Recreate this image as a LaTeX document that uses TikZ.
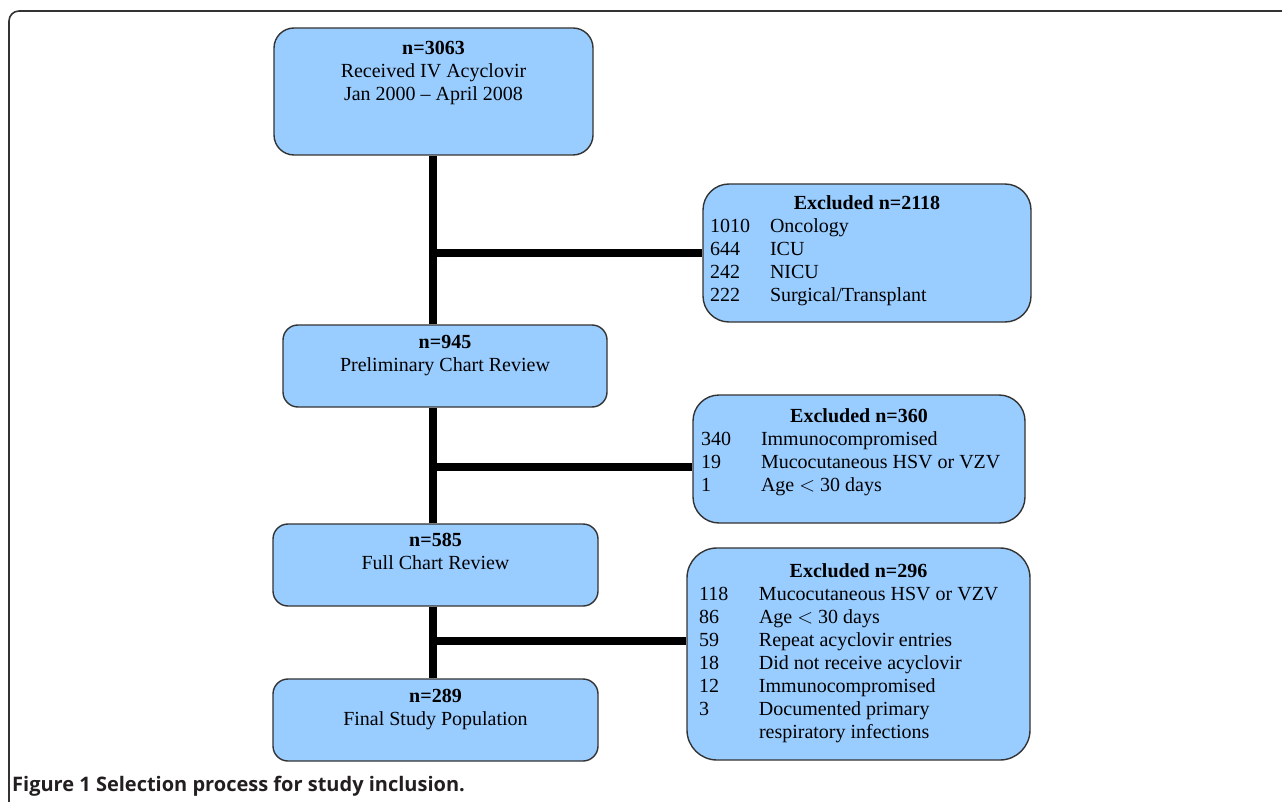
\documentclass[tikz,border=0pt]{standalone}
\usepackage{fontspec}
\setmainfont{Liberation Serif}
\newfontfamily\capfont{Open Sans}
\usetikzlibrary{positioning, backgrounds}
\definecolor{boxblue}{HTML}{99CCFF}
\definecolor{boxline}{HTML}{333333}
\definecolor{captext}{HTML}{231F20}

\begin{document}
\begin{tikzpicture}[x=1pt, y=-1pt, font=\fontsize{20}{23}\selectfont,
  stage/.style={draw=boxline, fill=boxblue, line width=1.4pt, rounded corners=15pt, inner sep=0pt},
  excl/.style={stage, rounded corners=26pt},
  flow/.style={line width=8pt, black}]
  \useasboundingbox (0,0) rectangle (1282,802);

  % Frame
  \draw[boxline, line width=1.6pt, rounded corners=10pt] (9,820) -- (9,11) -- (1300,11);

  % Main stages
  \node[stage, rounded corners=20pt, minimum width=319pt, minimum height=127pt] (recv) at (433.5,91.5)
    {\parbox[c][100pt][t]{300pt}{\centering\textbf{n=3063}\\Received IV Acyclovir\\Jan 2000 -- April 2008}};
  \node[stage, minimum width=324pt, minimum height=82pt] (prelim) at (445,366)
    {\parbox[c][61pt][t]{300pt}{\centering\textbf{n=945}\\Preliminary Chart Review}};
  \node[stage, minimum width=325pt, minimum height=82pt] (full) at (435.5,565)
    {\parbox[c][63pt][t]{300pt}{\centering\textbf{n=585}\\Full Chart Review}};
  \node[stage, minimum width=325pt, minimum height=82pt] (final) at (435.5,720)
    {\parbox[c][61pt][t]{300pt}{\centering\textbf{n=289}\\Final Study Population}};

  % Exclusions
  \node[excl, minimum width=328pt, minimum height=138pt] (exA) at (867,253)
    {\parbox[c][115pt][t]{314pt}{\makebox[\linewidth]{\textbf{Excluded n=2118}}\\
      \makebox[60pt][l]{1010}Oncology\\
      \makebox[60pt][l]{644}ICU\\
      \makebox[60pt][l]{242}NICU\\
      \makebox[60pt][l]{222}Surgical/Transplant}};
  \node[excl, minimum width=332pt, minimum height=128pt] (exB) at (859,459)
    {\parbox[c][101pt][t]{316pt}{\makebox[\linewidth]{\textbf{Excluded n=360}}\\
      \makebox[60pt][l]{340}Immunocompromised\\
      \makebox[60pt][l]{19}Mucocutaneous HSV or VZV\\
      \makebox[60pt][l]{1}Age $<$ 30 days}};
  \node[excl, rounded corners=30pt, minimum width=343pt, minimum height=212pt] (exC) at (858.5,654)
    {\parbox[c][181pt][t]{319pt}{\makebox[\linewidth]{\textbf{Excluded n=296}}\\
      \makebox[60pt][l]{118}Mucocutaneous HSV or VZV\\
      \makebox[60pt][l]{86}Age $<$ 30 days\\
      \makebox[60pt][l]{59}Repeat acyclovir entries\\
      \makebox[60pt][l]{18}Did not receive acyclovir\\
      \makebox[60pt][l]{12}Immunocompromised\\
      \makebox[60pt][l]{3}Documented primary\\
      \hspace*{60pt}respiratory infections}};

  % Junctions on the trunk
  \coordinate (jA) at (433,253);
  \coordinate (jB) at (433,467);
  \coordinate (jC) at (433,641);

  % Connectors
  \begin{scope}[on background layer]
    \draw[flow] (recv.south -| jA) -- (prelim.north -| jA);
    \draw[flow] (prelim.south -| jB) -- (full.north -| jB);
    \draw[flow] (full.south -| jC) -- (final.north -| jC);
    \draw[flow] (jA) -- (jA -| exA.west);
    \draw[flow] (jB) -- (jB -| exB.west);
    \draw[flow] (jC) -- (jC -| exC.west);
  \end{scope}

  % Caption
  \node[anchor=base west, inner sep=0pt, text=captext, font=\capfont\bfseries\fontsize{20}{23}\selectfont] (cap) at (12,791)
    {Figure 1 Selection process for study inclusion.};
\end{tikzpicture}
\end{document}
